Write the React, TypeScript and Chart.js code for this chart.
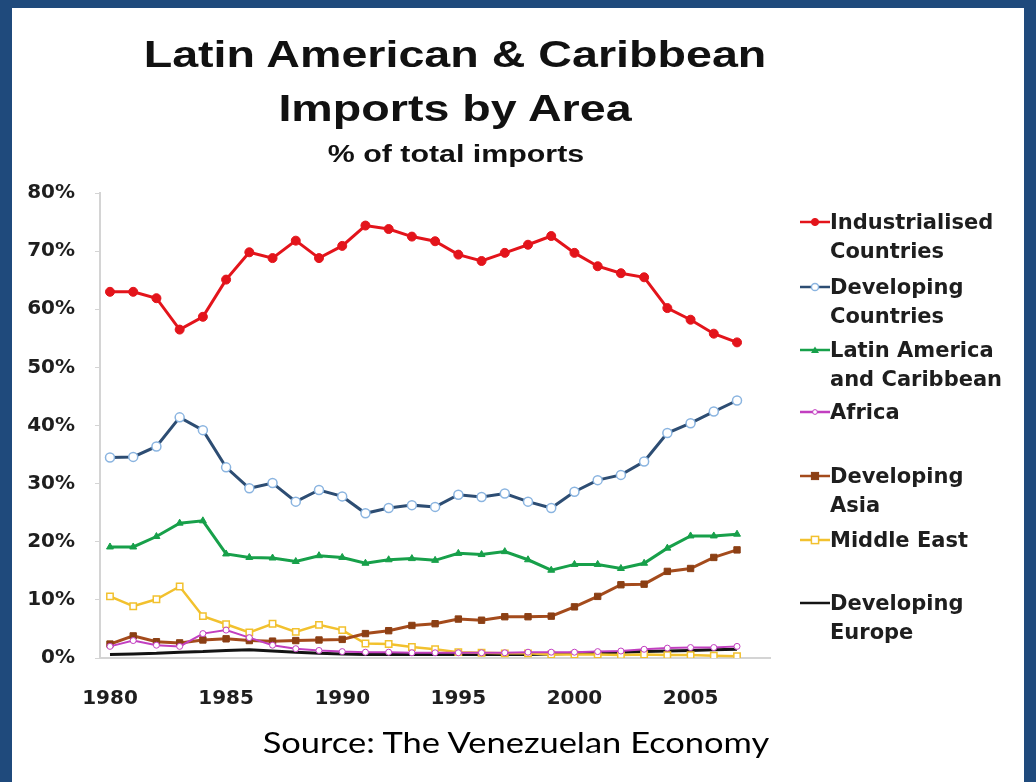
import React, { useEffect, useRef } from "react";
import { Chart, registerables } from "chart.js";

Chart.register(...registerables);

// ---------- data ----------
const years = [
  1980, 1981, 1982, 1983, 1984, 1985, 1986, 1987, 1988, 1989, 1990, 1991, 1992, 1993,
  1994, 1995, 1996, 1997, 1998, 1999, 2000, 2001, 2002, 2003, 2004, 2005, 2006, 2007,
];
const xTickYears = [1980, 1985, 1990, 1995, 2000, 2005];
const yTickValues = [0, 10, 20, 30, 40, 50, 60, 70, 80];

const industrialised = [
  63.0, 63.0, 61.9, 56.5, 58.7, 65.1, 69.8, 68.8, 71.8, 68.8, 70.9, 74.4, 73.8, 72.5,
  71.7, 69.4, 68.3, 69.7, 71.1, 72.6, 69.7, 67.4, 66.2, 65.5, 60.2, 58.2, 55.8, 54.3,
];
const developing = [
  34.5, 34.6, 36.4, 41.4, 39.2, 32.8, 29.2, 30.1, 26.9, 28.9, 27.8, 24.9, 25.8, 26.3,
  26.0, 28.1, 27.7, 28.3, 26.9, 25.8, 28.6, 30.6, 31.5, 33.8, 38.7, 40.4, 42.4, 44.3,
];
const latinAmerica = [
  19.1, 19.1, 20.9, 23.2, 23.6, 17.9, 17.3, 17.2, 16.6, 17.6, 17.3, 16.3, 16.9, 17.1,
  16.8, 18.0, 17.8, 18.3, 16.9, 15.1, 16.1, 16.1, 15.4, 16.3, 18.9, 21.0, 21.0, 21.3,
];
const africa = [
  2.0, 3.0, 2.2, 2.0, 4.2, 4.8, 3.5, 2.2, 1.6, 1.3, 1.1, 1.0, 1.0, 0.9,
  0.9, 0.9, 0.9, 0.9, 1.0, 1.0, 1.0, 1.1, 1.2, 1.5, 1.7, 1.8, 1.8, 2.0,
];
const developingAsia = [
  2.4, 3.8, 2.8, 2.6, 3.1, 3.3, 3.0, 2.9, 3.0, 3.1, 3.2, 4.2, 4.7, 5.6,
  5.9, 6.7, 6.5, 7.1, 7.1, 7.2, 8.8, 10.6, 12.6, 12.7, 14.9, 15.4, 17.3, 18.6,
];
const middleEast = [
  10.6, 8.9, 10.1, 12.3, 7.2, 5.8, 4.4, 5.9, 4.5, 5.7, 4.8, 2.5, 2.4, 1.9,
  1.5, 1.0, 0.9, 0.8, 0.8, 0.6, 0.6, 0.6, 0.5, 0.6, 0.5, 0.5, 0.4, 0.3,
];
const developingEurope = [
  0.6, 0.7, 0.8, 1.0, 1.1, 1.3, 1.4, 1.2, 1.0, 0.8, 0.7, 0.6, 0.6, 0.6,
  0.6, 0.6, 0.6, 0.6, 0.6, 0.7, 0.8, 0.9, 1.0, 1.1, 1.2, 1.3, 1.4, 1.5,
];

const seriesLabels = [
  ["Industrialised", "Countries"],
  ["Developing", "Countries"],
  ["Latin America", "and Caribbean"],
  ["Africa"],
  ["Developing", "Asia"],
  ["Middle East"],
  ["Developing", "Europe"],
];
const seriesValues = [
  industrialised,
  developing,
  latinAmerica,
  africa,
  developingAsia,
  middleEast,
  developingEurope,
];

const titleLine1 = "Latin American & Caribbean";
const titleLine2 = "Imports by Area";
const subtitle = "% of total imports";
const sourceText = "Source: The Venezuelan Economy";

// ---------- styles ----------
type SeriesStyle = {
  line: string;
  width: number;
  shape: "circle" | "triangle" | "rect" | false;
  radius: number;
  fill: string;
  edge: string;
  edgeWidth: number;
};
const styles: SeriesStyle[] = [
  { line: "#e3141b", width: 3, shape: "circle", radius: 4.5, fill: "#e3141b", edge: "#e3141b", edgeWidth: 1 },
  { line: "#2d4d73", width: 3, shape: "circle", radius: 4.5, fill: "#ffffff", edge: "#8ab4e0", edgeWidth: 1.5 },
  { line: "#17a04a", width: 3, shape: "triangle", radius: 4, fill: "#17a04a", edge: "#17a04a", edgeWidth: 1 },
  { line: "#c23fc0", width: 2, shape: "circle", radius: 3, fill: "#ffffff", edge: "#c23fc0", edgeWidth: 1 },
  { line: "#a44b1c", width: 3, shape: "rect", radius: 4.5, fill: "#8b3f14", edge: "#8b3f14", edgeWidth: 1 },
  { line: "#f2c12e", width: 2.5, shape: "rect", radius: 4.5, fill: "#ffffff", edge: "#f2c12e", edgeWidth: 1.5 },
  { line: "#141414", width: 3, shape: false, radius: 0, fill: "#141414", edge: "#141414", edgeWidth: 0 },
];
const legendCenters = [222, 287, 350, 412, 476, 540, 603];

const BOLD = '"DejaVu Sans", sans-serif';
const ARIAL = '"Liberation Sans", Arial, sans-serif';

function LegendMarker({ s }: { s: SeriesStyle }) {
  let marker: React.ReactNode = null;
  if (s.shape === "circle") {
    marker = <circle cx={15} cy={8} r={s.radius * 0.8} fill={s.fill} stroke={s.edge} strokeWidth={s.edgeWidth} />;
  } else if (s.shape === "rect") {
    const r = s.radius * 0.8;
    marker = <rect x={15 - r} y={8 - r} width={2 * r} height={2 * r} fill={s.fill} stroke={s.edge} strokeWidth={s.edgeWidth} />;
  } else if (s.shape === "triangle") {
    marker = <polygon points="15,4.5 19,11 11,11" fill={s.fill} />;
  }
  return (
    <svg width={30} height={16} style={{ position: "absolute", left: -30, top: 6 }}>
      <line x1={0} y1={8} x2={30} y2={8} stroke={s.line} strokeWidth={2.5} />
      {marker}
    </svg>
  );
}

export default function App() {
  const canvasRef = useRef<HTMLCanvasElement | null>(null);

  useEffect(() => {
    const canvas = canvasRef.current;
    if (!canvas) return;
    const datasets = seriesValues.map((vals, i) => {
      const s = styles[i];
      return {
        label: seriesLabels[i].join(" "),
        data: years.map((yr, k) => ({ x: yr, y: vals[k] })),
        borderColor: s.line,
        borderWidth: s.width,
        backgroundColor: s.fill,
        pointStyle: s.shape,
        pointRadius: s.radius,
        pointBackgroundColor: s.fill,
        pointBorderColor: s.edge,
        pointBorderWidth: s.edgeWidth,
        tension: 0,
        fill: false,
      };
    });
    const chart = new Chart(canvas, {
      type: "line",
      data: { datasets },
      options: {
        animation: false,
        responsive: true,
        maintainAspectRatio: false,
        layout: { padding: { left: 0, right: 266, top: 193, bottom: 64 } },
        plugins: { legend: { display: false }, tooltip: { enabled: false }, title: { display: false } },
        scales: {
          x: {
            type: "linear",
            min: 1979.57,
            max: 2008.42,
            afterBuildTicks: (scale: any) => {
              scale.ticks = xTickYears.map((v) => ({ value: v }));
            },
            afterFit: (scale: any) => {
              scale.height = 60;
            },
            grid: { display: false },
            border: { display: true, color: "#d4d4d4", width: 2 },
            ticks: {
              callback: (v: any) => String(v),
              color: "#1e1e1e",
              font: { family: BOLD, size: 20, weight: "bold" },
              padding: 21,
              maxRotation: 0,
            },
          },
          y: {
            type: "linear",
            min: 0,
            max: 80,
            afterBuildTicks: (scale: any) => {
              scale.ticks = yTickValues.map((v) => ({ value: v }));
            },
            afterFit: (scale: any) => {
              scale.width = 100;
            },
            grid: { drawOnChartArea: false, drawTicks: true, tickLength: 5, color: "#d4d4d4" },
            border: { display: true, color: "#d4d4d4", width: 2 },
            ticks: {
              callback: (v: any) => v + "%",
              color: "#1e1e1e",
              font: { family: BOLD, size: 20, weight: "bold" },
              padding: 20,
            },
          },
        },
      },
    } as any);
    return () => chart.destroy();
  }, []);

  const textBase: React.CSSProperties = {
    position: "absolute",
    whiteSpace: "nowrap",
    fontFamily: BOLD,
    fontWeight: "bold",
    color: "#111",
    lineHeight: 1,
  };

  return (
    <div style={{ position: "fixed", left: 0, top: 0, width: 1036, height: 782, background: "#1f4a7c", overflow: "hidden" }}>
      <div style={{ position: "absolute", left: 12, top: 8, width: 1012, height: 774, background: "#ffffff" }} />
      <div style={{ position: "absolute", left: 0, top: 0, width: 1036, height: 782 }}>
        <canvas ref={canvasRef} />
      </div>
      <div style={{ ...textBase, fontFamily: ARIAL, left: 455, top: 36, fontSize: 37, transform: "translateX(-50%) scaleX(1.26)" }}>{titleLine1}</div>
      <div style={{ ...textBase, fontFamily: ARIAL, left: 455, top: 90, fontSize: 37, transform: "translateX(-50%) scaleX(1.26)" }}>{titleLine2}</div>
      <div style={{ ...textBase, fontFamily: ARIAL, left: 456, top: 143, fontSize: 23, transform: "translateX(-50%) scaleX(1.32)" }}>{subtitle}</div>
      {seriesLabels.map((lines, i) => (
        <div
          key={i}
          style={{
            ...textBase,
            left: 830,
            top: legendCenters[i] - 14.5,
            fontSize: 21,
            lineHeight: "29.5px",
            color: "#1e1e1e",
          }}
        >
          <LegendMarker s={styles[i]} />
          {lines.map((t, k) => (
            <div key={k}>{t}</div>
          ))}
        </div>
      ))}
      <div
        style={{
          position: "absolute",
          left: 516,
          top: 728,
          whiteSpace: "nowrap",
          fontFamily: "Lato, sans-serif",
          fontSize: 28,
          lineHeight: 1,
          color: "#000",
          transform: "translateX(-50%) scaleX(1.23)",
        }}
      >
        {sourceText}
      </div>
    </div>
  );
}
